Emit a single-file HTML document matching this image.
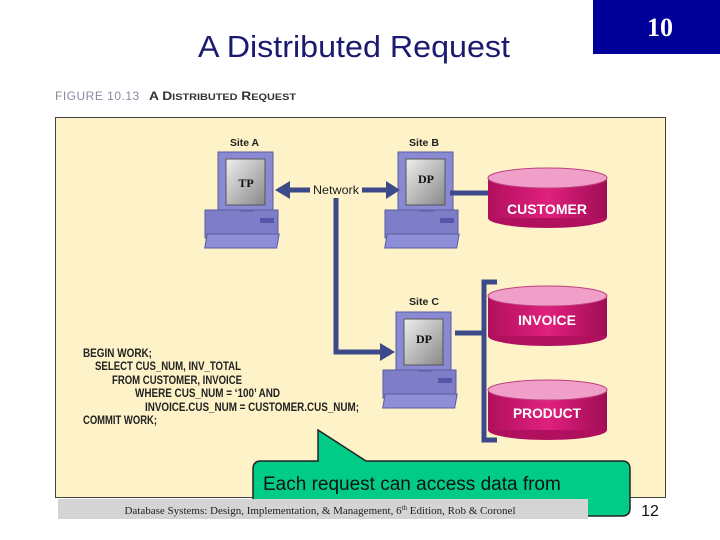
<!DOCTYPE html>
<html><head><style>
body{margin:0;width:720px;height:540px;background:#fff;overflow:hidden;position:relative;font-family:"Liberation Sans",sans-serif}
</style></head><body>
<svg width="720" height="540" viewBox="0 0 720 540" xmlns="http://www.w3.org/2000/svg" style="position:absolute;left:0;top:0">
<defs>
<linearGradient id="scr" x1="0" y1="0" x2="1" y2="1"><stop offset="0" stop-color="#eee"/><stop offset="1" stop-color="#888"/></linearGradient>
<linearGradient id="cyl" x1="0" y1="0" x2="1" y2="0"><stop offset="0" stop-color="#b0105e"/><stop offset="0.5" stop-color="#e0207e"/><stop offset="1" stop-color="#a00c55"/></linearGradient>
<g id="pc">
<rect x="5" y="60" width="73" height="28" fill="#7e7ec8" stroke="#5a5aa0"/>
<rect x="60" y="68" width="14" height="5" fill="#5555aa"/>
<rect x="22" y="84" width="72" height="14" fill="#8e8ed8" stroke="#5a5aa0" transform="skewX(-10)"/>
<rect x="40" y="52" width="14" height="10" fill="#6b6bb8"/>
<rect x="18" y="2" width="55" height="58" fill="#8a8ad2" stroke="#5a5aa0"/>
<rect x="26" y="9" width="39" height="46" fill="url(#scr)" stroke="#555"/>
</g>
<g id="cy">
<ellipse cx="59.5" cy="50" rx="59.5" ry="10" fill="#b0105e"/>
<rect x="0" y="10" width="119" height="40" fill="url(#cyl)"/>
<ellipse cx="59.5" cy="10" rx="59.5" ry="10" fill="#f0a0c8" stroke="#c04080"/>
</g>
</defs>
<rect x="593" y="0" width="127" height="54" fill="#000099"/>
<text x="660" y="36" font-family="Liberation Serif" font-weight="bold" font-size="26" fill="#fff" text-anchor="middle">10</text>
<text x="354" y="57" font-size="31" fill="#1a1a70" text-anchor="middle" textLength="312" lengthAdjust="spacingAndGlyphs">A Distributed Request</text>
<text x="55" y="100" font-size="12" fill="#8a8aa0" letter-spacing="0.5">FIGURE 10.13</text>
<text x="149" y="100" font-size="12" font-weight="bold" fill="#333" textLength="147" lengthAdjust="spacingAndGlyphs">A D<tspan font-size="9.5">ISTRIBUTED</tspan> R<tspan font-size="9.5">EQUEST</tspan></text>
<rect x="55.5" y="117.5" width="610" height="380" fill="#fdf2c8" stroke="#444"/>
<g font-weight="bold" font-size="10.5" fill="#222">
<text x="230" y="146" textLength="29" lengthAdjust="spacingAndGlyphs">Site A</text><text x="409" y="146" textLength="30" lengthAdjust="spacingAndGlyphs">Site B</text><text x="409" y="305" textLength="30" lengthAdjust="spacingAndGlyphs">Site C</text>
</g>
<use href="#pc" x="200" y="150"/>
<use href="#pc" x="380" y="150"/>
<use href="#pc" x="378" y="310"/>
<g font-family="Liberation Serif" font-weight="bold" font-size="12" fill="#111" text-anchor="middle">
<text x="246" y="187">TP</text><text x="426" y="183">DP</text><text x="424" y="343">DP</text>
</g>
<g stroke="#3d4a8a" stroke-width="5" fill="none">
<line x1="288" y1="190" x2="310" y2="190"/>
<line x1="362" y1="190" x2="390" y2="190"/>
<polyline points="336,198 336,352 380,352"/>
<line x1="450" y1="193" x2="490" y2="193"/>
<line x1="455" y1="333" x2="484" y2="333"/>
<polyline points="497,282 484,282 484,440 497,440"/>
</g>
<g fill="#3d4a8a">
<polygon points="275,190 290,181 290,199"/>
<polygon points="400,190 386,181 386,199"/>
<polygon points="395,352 380,343 380,361"/>
</g>
<text x="336" y="194" font-size="12" fill="#222" text-anchor="middle" textLength="46" lengthAdjust="spacingAndGlyphs">Network</text>
<use href="#cy" x="488" y="168"/>
<use href="#cy" x="488" y="286"/>
<use href="#cy" x="488" y="380"/>
<g fill="#fff" font-size="14" font-weight="bold" text-anchor="middle">
<text x="547" y="214" textLength="80" lengthAdjust="spacingAndGlyphs">CUSTOMER</text><text x="547" y="325" textLength="58" lengthAdjust="spacingAndGlyphs">INVOICE</text><text x="547" y="418" textLength="68" lengthAdjust="spacingAndGlyphs">PRODUCT</text>
</g>
<g font-size="11.5" font-weight="bold" fill="#222" lengthAdjust="spacingAndGlyphs">
<text x="83" y="357" textLength="69" lengthAdjust="spacingAndGlyphs">BEGIN WORK;</text>
<text x="95" y="370" textLength="146" lengthAdjust="spacingAndGlyphs">SELECT CUS_NUM, INV_TOTAL</text>
<text x="112" y="384" textLength="130" lengthAdjust="spacingAndGlyphs">FROM CUSTOMER, INVOICE</text>
<text x="135" y="397" textLength="145" lengthAdjust="spacingAndGlyphs">WHERE CUS_NUM = ‘100’ AND</text>
<text x="145" y="411" textLength="214" lengthAdjust="spacingAndGlyphs">INVOICE.CUS_NUM = CUSTOMER.CUS_NUM;</text>
<text x="83" y="424" textLength="74" lengthAdjust="spacingAndGlyphs">COMMIT WORK;</text>
</g>
<path d="M318,430 L366,461 L622,461 Q630,461 630,469 L630,508 Q630,516 622,516 L261,516 Q253,516 253,508 L253,469 Q253,461 261,461 L318,461 Z" fill="#00cc88" stroke="#222" stroke-width="1.5"/>
<text x="263" y="490" font-size="19" fill="#111">Each request can access data from</text>
<text x="263" y="514" font-size="19" fill="#111">more than one remote site</text>
<rect x="58" y="499" width="530" height="20" fill="#d4d4d4"/>
<text x="320" y="514" font-family="Liberation Serif" font-size="11" fill="#222" text-anchor="middle">Database Systems: Design, Implementation, &amp; Management, 6<tspan font-size="7" dy="-4">th</tspan><tspan dy="4"> Edition, Rob &amp; Coronel</tspan></text>
<text x="650" y="516" font-size="16" fill="#111" text-anchor="middle">12</text>
</svg>
</body></html>
